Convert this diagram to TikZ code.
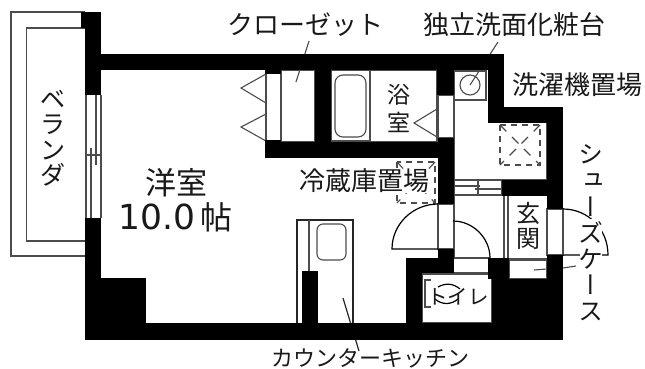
\documentclass[tikz,border=0pt]{standalone}
\usepackage{fontspec}
\newfontfamily\jp{Noto Sans CJK JP}
\newfontfamily\jpv[RawFeature=+vert]{Noto Sans CJK JP}
\newfontfamily\lat{DejaVu Sans}
\newcommand{\fs}[2]{\fontsize{#1}{#2}\selectfont}
\tikzset{
  thin line/.style={draw=black!70,line width=1.1pt},
  dark line/.style={draw=black!85,line width=1.2pt},
  door/.style={draw=black,line width=1.2pt},
  dash box/.style={draw=black!70,line width=1.1pt,dash pattern=on 6pt off 5pt},
  dash diag/.style={draw=black!70,line width=1.1pt,dash pattern=on 9pt off 8pt},
  wall/.style={fill=black},
  label/.style={inner sep=0pt,text=black!90},
}
\begin{document}
\begin{tikzpicture}[x=1pt,y=-1pt]
\useasboundingbox (0,0) rectangle (645,368);
\fill[white] (0,0) rectangle (645,368);
% balcony
\draw[thin line] (85,12) -- (11,12) -- (11,256) -- (85,256);
\draw[thin line] (85,28) -- (26.5,28) -- (26.5,241) -- (85,241);
% window
\draw[thin line] (86,95) -- (86,218);
\draw[thin line] (101,95) -- (101,218);
\draw[thin line] (96,95) -- (96,165);
\draw[thin line] (91,148) -- (91,218);
\draw[thin line] (86,155) -- (101,155);
% closet
\draw[thin line] (266,70) rectangle (281,142);
\draw[thin line] (281,70) rectangle (315,142);
\draw[thin line] (266,74) -- (241,88) -- (266,103);
\draw[thin line] (266,114) -- (241,127) -- (266,141);
% leaders
\coordinate (cl1) at (309,41); \coordinate (cl2) at (296,82);
\draw[thin line] (cl1) -- (cl2);
\coordinate (ws1) at (498,42); \coordinate (ws2) at (470,85);
\draw[thin line] (ws1) -- (ws2);
% bath
\draw[thin line] (331,70) rectangle (437,142);
\draw[thin line] (370,70) -- (370,142);
\draw[thin line,line width=2pt] (331,141) -- (370,141);
\draw[thin line,rounded corners=8pt] (335,75) rectangle (366,137);
\draw[thin line] (437,109) -- (414,123) -- (437,137);
% doors frames
\draw[thin line] (438,95) rectangle (454,138);
\draw[thin line] (438,204) rectangle (454,249);
\draw[thin line] (547,209) rectangle (563,255);
% washstand
\draw[thin line] (454,71) rectangle (486,100);
\draw[thin line] (470,85) circle (10);
% lavatory
\draw[thin line] (454,100) -- (454,180) -- (547,180) -- (547,123);
% washer place
\draw[dash box] (500,125) rectangle (540,165);
\draw[dash diag] (500,125) -- (540,165);
\draw[dash diag] (540,125) -- (500,165);
% fridge place
\draw[dash box] (397,162) rectangle (435,203);
\draw[dash diag] (397,162) -- (435,203);
\draw[dash diag] (435,162) -- (397,203);
% hall closet
\draw[thin line] (454,180) rectangle (502,195);
\draw[thin line] (478,180) -- (478,195);
\draw[thin line] (454,186) -- (480,186);
\draw[thin line] (475,189) -- (502,189);
% hall
\draw[thin line] (454,195) -- (454,258) -- (490,258);
\draw[thin line] (504,196) -- (504,258);
\draw[thin line] (508,196) -- (508,258);
\draw[thin line] (508,259) -- (547,259);
\draw[thin line] (509,260) rectangle (547,279);
\draw[thin line] (454,273) -- (488,273);
% door leaves
\draw[door] (438,249) -- (392,249) .. controls (392,224) and (413,204) .. (438,204);
\draw[door] (453,221) .. controls (473,221) and (490,238) .. (490,258);
\draw[door] (563,255) -- (608,255) .. controls (608,229) and (588,209) .. (563,209);
% kitchen
\draw[dark line] (297,323) -- (297,220) -- (353,220) -- (353,323);
\draw[thin line] (309,220) -- (309,271);
\draw[thin line,rounded corners=6pt] (317,224) rectangle (346,260);
% toilet
\draw[thin line] (422,274) rectangle (492,323);
\draw[thin line] (431,280) -- (425,280) -- (425,307) -- (431,307);
\draw[door] (438,287) .. controls (445,283) and (453,283) .. (460,289);
\draw[door] (435,299) .. controls (442,305) and (451,305) .. (458,299);
% storage leaders
\coordinate (sh1) at (534,270); \coordinate (sh2) at (547,269);
\draw[thin line] (sh1) -- (sh2);
\coordinate (sh3) at (563,268); \coordinate (sh4) at (576,266);
\draw[thin line] (sh3) -- (sh4);
% walls
\fill[wall] (81,12) rectangle (101,28);
\fill[wall] (85,12) rectangle (101,95);
\fill[wall] (101,54) rectangle (504,70);
\fill[wall] (488,54) rectangle (504,123);
\fill[wall] (488,107) rectangle (563,123);
\fill[wall] (547,107) rectangle (563,209);
\fill[wall] (502,180) rectangle (563,196);
\fill[wall] (547,255) rectangle (563,340);
\fill[wall] (492,279) rectangle (563,340);
\fill[wall] (488,258) rectangle (509,279);
\fill[wall] (85,218) rectangle (101,340);
\fill[wall] (101,278) rectangle (146,340);
\fill[wall] (302,271) rectangle (318,323);
\fill[wall] (406,258) rectangle (422,340);
\fill[wall] (406,258) rectangle (454,273);
\fill[wall] (438,249) rectangle (454,258);
\fill[wall] (437,70) rectangle (454,95);
\fill[wall] (438,138) rectangle (454,204);
\fill[wall] (265,142) rectangle (454,158);
\fill[wall] (315,70) rectangle (331,158);
\fill[wall] (265,70) rectangle (281,74);
\fill[wall] (265,140) rectangle (281,158);
% counter leader behind bottom wall
\coordinate (ck1) at (343,298); \coordinate (ck2) at (359,351);
\draw[dark line] (ck1) -- (ck2);
\fill[wall] (85,323) rectangle (563,340);
\fill[white] (580,219) rectangle (602,272);
% labels
\node[label,font=\jp\fs{26}{26}] (closet) at (305,25) {クローゼット};
\node[label,font=\jp\fs{26}{26}] (basin) at (514,25) {独立洗面化粧台};
\node[label,font=\jp\fs{26}{26}] (washer) at (577.5,85) {洗濯機置場};
\node[label,align=center,font=\jp\fs{23}{28}] (bathlabel) at (399,108) {浴\\室};
\node[label,fill=white,font=\jp\fs{26}{26}] (fridge) at (364.5,181) {冷蔵庫置場};
\node[label,font=\jp\fs{31}{31}] (room) at (176,183) {洋室};
\node[label,font=\lat\fs{34.5}{34}] (size) at (175.5,217) {10.0\,{\jp\fs{32}{32}帖}};
\node[label,align=center,font=\jp\fs{25}{25.5}] (veranda) at (53,138) {ベ\\ラ\\ン\\ダ};
\node[label,align=center,font=\jpv\fs{25}{26.2}] (shoe) at (591,233) {シ\\ュ\\ー\\ズ\\ケ\\ー\\ス};
\node[label,align=center,font=\jp\fs{24}{25}] (genkan) at (528,226) {玄\\関};
\node[label,font=\jp\fs{20.5}{20.5}] (toilet) at (458,297) {トイレ};
\node[label,font=\jp\fs{22}{22}] (kitchen) at (370,358) {カウンターキッチン};
\end{tikzpicture}
\end{document}
